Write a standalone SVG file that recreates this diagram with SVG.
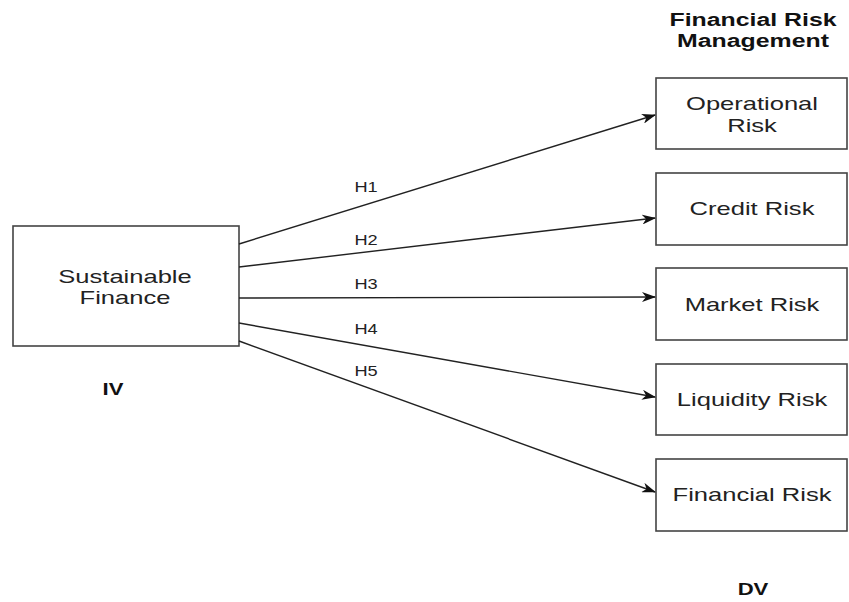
<svg xmlns="http://www.w3.org/2000/svg" width="849" height="602" viewBox="0 0 849 602">
<style>
.box{fill:#fff;stroke:#444;stroke-width:1.6}
.t{font-family:"Liberation Sans",Arial,sans-serif;font-size:18.5px;fill:#222;text-anchor:middle}
.h{font-family:"Liberation Sans",Arial,sans-serif;font-size:14px;fill:#222;text-anchor:middle}
.b{font-family:"Liberation Sans",Arial,sans-serif;font-size:18px;font-weight:bold;fill:#111;text-anchor:middle}
.c{stroke:#222;stroke-width:1.4;fill:none;marker-end:url(#ah)}
</style>
<defs>
<marker id="ah" markerWidth="14" markerHeight="10" refX="13" refY="5" orient="auto" markerUnits="userSpaceOnUse">
<path d="M0,0 L14,5 L0,10 L4,5 Z" fill="#111"/>
</marker>
</defs>
<rect width="849" height="602" fill="#fff"/>
<g transform="translate(753,0) scale(1.38,1)">
<text class="b" x="0" y="26">Financial Risk</text>
<text class="b" x="0" y="47">Management</text>
</g>
<g id="sf"><rect class="box" x="13" y="226" width="226" height="120"/><g transform="translate(125,0) scale(1.38,1)"><text class="t" x="0" y="283">Sustainable</text><text class="t" x="0" y="304">Finance</text></g></g>
<g id="op"><rect class="box" x="656" y="78" width="191" height="71"/><g transform="translate(752,0) scale(1.38,1)"><text class="t" x="0" y="110">Operational</text><text class="t" x="0" y="132">Risk</text></g></g>
<g id="cr"><rect class="box" x="656" y="173" width="191" height="72"/><g transform="translate(752,0) scale(1.38,1)"><text class="t" x="0" y="215">Credit Risk</text></g></g>
<g id="mr"><rect class="box" x="656" y="268" width="191" height="72"/><g transform="translate(752,0) scale(1.38,1)"><text class="t" x="0" y="311">Market Risk</text></g></g>
<g id="lr"><rect class="box" x="656" y="364" width="191" height="71"/><g transform="translate(752,0) scale(1.38,1)"><text class="t" x="0" y="406">Liquidity Risk</text></g></g>
<g id="fr"><rect class="box" x="656" y="459" width="191" height="72"/><g transform="translate(752,0) scale(1.38,1)"><text class="t" x="0" y="501">Financial Risk</text></g></g>
<g id="connectors">
<line class="c" x1="239" y1="244" x2="655" y2="115"/>
<line class="c" x1="239" y1="267" x2="655" y2="218"/>
<line class="c" x1="239" y1="298" x2="655" y2="297"/>
<line class="c" x1="239" y1="323" x2="655" y2="397"/>
<line class="c" x1="239" y1="341" x2="655" y2="492"/>
<g transform="translate(366,0) scale(1.3,1)">
<text class="h" x="0" y="192">H1</text>
<text class="h" x="0" y="245">H2</text>
<text class="h" x="0" y="289">H3</text>
<text class="h" x="0" y="334">H4</text>
<text class="h" x="0" y="376">H5</text>
</g>
</g>
<g transform="translate(113,0) scale(1.38,1)"><text class="b" x="0" y="395" style="font-size:16px">IV</text></g>
<g transform="translate(753,0) scale(1.38,1)"><text class="b" x="0" y="595" style="font-size:16px">DV</text></g>
</svg>
